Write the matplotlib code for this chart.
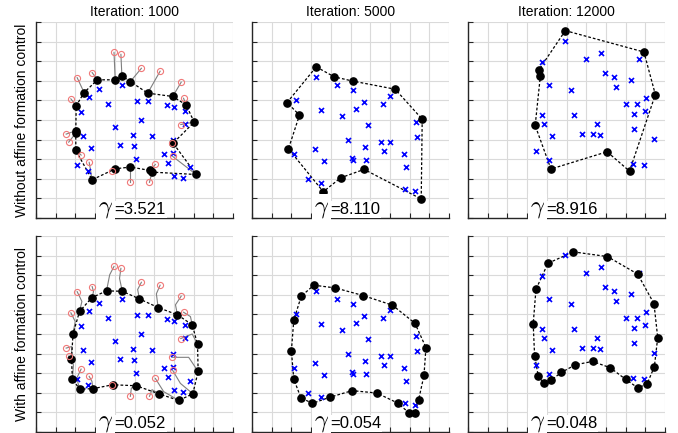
import matplotlib
matplotlib.use("Agg")
import matplotlib.pyplot as plt

plt.rcParams['font.family'] = ['Liberation Sans', 'DejaVu Sans']

# titles / labels
col_titles = ['Iteration: 1000', 'Iteration: 5000', 'Iteration: 12000']
row_labels = ['Without affine formation control', 'With affine formation control']
gammas = [['3.521', '8.110', '8.916'], ['0.052', '0.054', '0.048']]

# initial agent positions (red circles), column 1 only
start_x = [3.96, 4.31, 2.85, 2.09, 1.77, 1.53, 1.66, 2.29, 2.70, 3.85,
           4.79, 5.76, 6.06, 5.35, 6.30, 7.37, 7.49, 7.35, 6.91, 6.94]
start_y = [8.45, 8.35, 7.42, 7.16, 6.08, 4.28, 3.87, 3.21, 2.84, 2.41,
           1.82, 1.82, 2.73, 7.64, 7.49, 6.93, 6.11, 4.77, 3.81, 3.14]

# agent positions at iteration 1000, no affine control
free_x = [4.02, 4.36, 3.12, 2.44, 2.04, 2.02, 2.02, 2.02, 2.85, 4.02,
          4.79, 5.89, 5.77, 4.79, 5.67, 6.94, 7.62, 8.03, 6.96, 8.13]
free_y = [7.05, 7.25, 7.05, 6.40, 5.72, 4.45, 4.33, 3.45, 1.95, 2.51,
          2.60, 2.34, 2.43, 6.96, 6.37, 6.20, 5.77, 4.89, 3.82, 2.22]
free_ring = [2, 0, 1, 13, 14, 15, 16, 17, 18, 19, 11, 12, 10, 9, 8, 7, 6, 5, 4, 3]

# agent positions at iteration 1000, affine control
aff_x = [3.58, 4.38, 2.84, 2.21, 1.88, 1.80, 1.85, 2.21, 2.89, 3.89,
         5.09, 6.26, 7.25, 5.25, 6.20, 7.18, 7.93, 8.20, 8.23, 7.96]
aff_y = [7.20, 7.18, 6.86, 6.15, 5.01, 3.72, 2.70, 2.19, 2.21, 2.41,
         2.36, 1.94, 1.61, 6.79, 6.35, 5.98, 5.47, 4.48, 3.09, 1.95]
aff_ring = [0, 1, 13, 14, 15, 16, 17, 18, 19, 12, 11, 10, 9, 8, 7, 6, 5, 4, 3, 2]
# a waypoint on each curved trajectory
aff_mid_x = [3.74, 4.24, 2.92, 2.33, 1.99, 1.82, 1.90, 2.07, 2.84, 3.87,
             4.84, 5.89, 6.48, 5.16, 6.11, 7.08, 7.84, 7.93, 7.75, 7.33]
aff_mid_y = [8.02, 7.84, 7.16, 6.66, 5.64, 4.36, 3.43, 2.75, 2.58, 2.39,
             2.24, 2.16, 2.06, 7.27, 7.05, 6.49, 5.89, 5.00, 3.81, 2.48]

# boundary agents for iterations 5000 / 12000 (in ring order)
ring_5000_free_x = [3.26, 4.18, 5.14, 7.27, 8.64, 8.59, 5.69, 4.50, 3.62, 1.85, 2.41, 1.78]
ring_5000_free_y = [7.71, 7.20, 6.98, 6.57, 5.04, 0.97, 2.48, 2.05, 1.34, 3.53, 5.25, 5.89]
ring_5000_aff_x = [3.14, 4.23, 5.65, 7.13, 8.27, 8.83, 8.73, 8.46, 8.27, 7.98,
                   7.39, 6.33, 5.08, 3.94, 3.06, 2.48, 2.12, 2.00, 2.12, 2.50]
ring_5000_aff_y = [7.49, 7.35, 6.96, 6.47, 5.55, 4.31, 2.89, 1.65, 0.97, 0.97,
                   1.48, 1.99, 2.11, 1.77, 1.46, 1.75, 2.70, 4.14, 5.70, 6.93]
ring_12000_free_x = [4.94, 8.93, 9.51, 8.20, 7.06, 4.21, 3.41, 3.67, 3.60]
ring_12000_free_y = [9.56, 8.47, 6.30, 2.39, 3.38, 2.50, 4.72, 7.22, 7.56]
ring_12000_aff_x = [5.35, 7.08, 8.61, 9.44, 9.63, 9.46, 9.08, 8.61, 8.01, 7.22,
                    6.32, 5.45, 4.74, 4.23, 3.85, 3.57, 3.38, 3.31, 3.45, 4.06]
ring_12000_aff_y = [9.19, 8.95, 8.06, 6.55, 4.82, 3.33, 2.43, 2.26, 2.68, 3.28,
                    3.60, 3.43, 3.04, 2.65, 2.50, 2.84, 3.90, 5.52, 7.28, 8.61]

# interior agents (blue crosses), one set per column
inner_1000_x = [3.19, 4.36, 2.70, 3.68, 5.13, 5.70, 6.66, 7.03, 7.57, 2.28,
                5.31, 3.99, 7.54, 4.94, 5.87, 2.38, 4.26, 4.99, 2.80, 6.96,
                6.50, 6.96, 5.08, 6.72, 2.07, 2.63, 7.84, 6.99, 7.47]
inner_1000_y = [6.57, 6.79, 6.15, 5.82, 5.98, 5.99, 5.79, 5.64, 5.47, 5.43,
                4.99, 4.62, 4.79, 4.26, 4.18, 4.19, 3.72, 3.65, 3.55, 3.96,
                3.28, 3.34, 3.01, 2.82, 2.70, 2.39, 2.58, 2.12, 2.04]
inner_5000_x = [3.26, 4.31, 5.13, 2.24, 5.70, 7.03, 6.64, 3.48, 5.30, 4.55,
                8.34, 5.87, 8.39, 4.86, 6.54, 6.99, 3.21, 5.76, 6.71, 2.12,
                3.63, 5.08, 5.14, 5.79, 7.71, 7.81, 2.84, 3.48, 7.79, 8.29]
inner_5000_y = [7.20, 6.81, 6.54, 6.04, 5.94, 6.23, 5.81, 5.52, 5.55, 5.18,
                4.89, 4.74, 4.14, 3.96, 3.89, 3.89, 3.53, 3.60, 3.40, 3.28,
                2.92, 3.04, 2.97, 2.97, 3.28, 2.58, 2.00, 1.78, 1.46, 1.38]
inner_12000_x = [4.92, 6.76, 5.98, 8.66, 3.77, 6.93, 7.39, 8.29, 4.09, 7.49,
                 5.21, 9.05, 8.01, 8.56, 8.42, 9.00, 3.75, 5.37, 3.87, 6.54,
                 4.26, 5.81, 6.37, 6.72, 8.42, 9.44, 3.46, 4.09, 8.37, 8.93]
inner_12000_y = [9.05, 8.42, 8.13, 8.13, 7.95, 7.39, 7.18, 7.06, 6.77, 6.67,
                 6.52, 6.13, 5.84, 5.81, 5.33, 5.45, 5.23, 5.23, 4.82, 4.82,
                 4.16, 4.30, 4.28, 4.24, 4.52, 4.01, 3.43, 2.97, 2.77, 2.70]

W, H = 678, 433
fig = plt.figure(figsize=(W / 100, H / 100), dpi=100)
col_left = [36, 252, 468]
row_top = [22, 236]
aw, ah = 197, 196


def ring_line(ax, xs, ys):
    ax.plot(list(xs) + [xs[0]], list(ys) + [ys[0]], color='black', lw=0.9,
            ls=(0, (2.2, 1.6)), zorder=3)
    ax.plot(xs, ys, 'o', color='black', ms=5.2, zorder=5)


def draw_inner(ax, xs, ys):
    ax.plot(xs, ys, 'x', color='#0000ff', ms=3.6, mew=1.2, zorder=4)


axes = []
for r in range(2):
    row = []
    for c in range(3):
        ax = fig.add_axes([col_left[c] / W, 1 - (row_top[r] + ah) / H, aw / W, ah / H])
        ax.set_xlim(0, 10)
        ax.set_ylim(0, 10)
        ax.set_xticks(range(11))
        ax.set_yticks(range(11))
        ax.set_xticklabels([])
        ax.set_yticklabels([])
        ax.grid(True, color='#dadada', lw=0.8)
        ax.set_axisbelow(True)
        for s in ['top', 'right']:
            ax.spines[s].set_visible(False)
        for s in ['left', 'bottom']:
            ax.spines[s].set_color('#262626')
            ax.spines[s].set_linewidth(1.0)
        ax.tick_params(direction='in', length=3.5, width=0.8, color='#262626')
        row.append(ax)
    axes.append(row)

for c in range(3):
    axes[0][c].set_title(col_titles[c], fontsize=10, pad=4)
for r in range(2):
    y = 1 - (row_top[r] + ah / 2) / H
    fig.text(22 / W, y, row_labels[r], rotation=90, ha='center', va='center', fontsize=10)

# column 1: trajectories
ax = axes[0][0]
for i in range(len(start_x)):
    ax.plot([start_x[i], free_x[i]], [start_y[i], free_y[i]], color='#7f7f7f', lw=0.8, zorder=2)
draw_inner(ax, inner_1000_x, inner_1000_y)
ring_line(ax, [free_x[i] for i in free_ring], [free_y[i] for i in free_ring])
ax.plot(start_x, start_y, 'o', mfc='none', mec='#f07878', ms=4.4, mew=0.8, zorder=6)

ax = axes[1][0]
for i in range(len(start_x)):
    ax.plot([start_x[i], aff_mid_x[i], aff_x[i]], [start_y[i], aff_mid_y[i], aff_y[i]],
            color='#7f7f7f', lw=0.8, zorder=2)
draw_inner(ax, inner_1000_x, inner_1000_y)
ring_line(ax, [aff_x[i] for i in aff_ring], [aff_y[i] for i in aff_ring])
ax.plot(start_x, start_y, 'o', mfc='none', mec='#f07878', ms=4.4, mew=0.8, zorder=6)

# columns 2 and 3
draw_inner(axes[0][1], inner_5000_x, inner_5000_y)
ring_line(axes[0][1], ring_5000_free_x, ring_5000_free_y)
draw_inner(axes[1][1], inner_5000_x, inner_5000_y)
ring_line(axes[1][1], ring_5000_aff_x, ring_5000_aff_y)
draw_inner(axes[0][2], inner_12000_x, inner_12000_y)
ring_line(axes[0][2], ring_12000_free_x, ring_12000_free_y)
draw_inner(axes[1][2], inner_12000_x, inner_12000_y)
ring_line(axes[1][2], ring_12000_aff_x, ring_12000_aff_y)

# gamma annotations
box = dict(facecolor='white', edgecolor='none', pad=1.0)
for r in range(2):
    for c in range(3):
        ax = axes[r][c]
        ax.text(3.93, 0.3, r'$\gamma$', fontsize=18, math_fontfamily='cm', ha='right',
                va='baseline', bbox=box, zorder=7)
        ax.text(3.95, 0.2, '=' + gammas[r][c], fontsize=12, ha='left',
                va='baseline', bbox=box, zorder=8)

fig.savefig('out.png', dpi=100)
